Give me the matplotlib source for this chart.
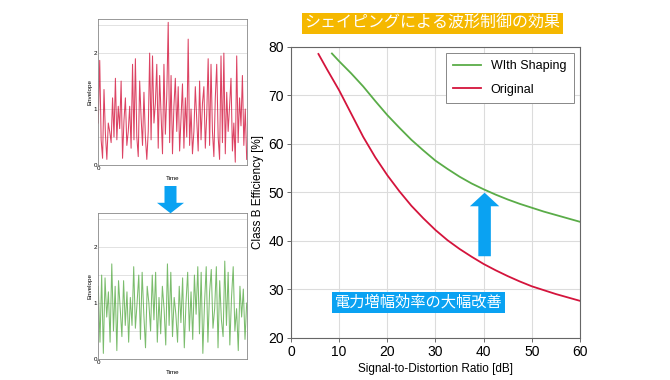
import matplotlib
matplotlib.use("Agg")
import matplotlib.pyplot as plt
import matplotlib.patches as mpatches

plt.rcParams['font.family'] = ['Liberation Sans', 'Noto Sans CJK JP', 'DejaVu Sans']

# main chart: class B efficiency vs SDR
sdr_shaping = [8.5, 10, 12.5, 15, 17.5, 20, 22.5, 25, 27.5, 30, 32.5, 35, 37.5, 40,
               42.5, 45, 47.5, 50, 52.5, 55, 57.5, 60]
eff_shaping = [78.6, 77.0, 74.5, 71.8, 68.8, 65.9, 63.3, 60.8, 58.6, 56.5, 54.8, 53.2, 51.8, 50.6,
               49.5, 48.5, 47.6, 46.8, 46.0, 45.3, 44.6, 43.9]
sdr_orig = [5.7, 7.5, 10, 12.5, 15, 17.5, 20, 22.5, 25, 27.5, 30, 32.5, 35, 37.5, 40,
            42.5, 45, 47.5, 50, 52.5, 55, 57.5, 60]
eff_orig = [78.5, 75.3, 71.0, 66.2, 61.4, 57.2, 53.5, 50.2, 47.2, 44.6, 42.2, 40.1, 38.3, 36.7, 35.2,
            33.9, 32.7, 31.6, 30.6, 29.8, 29.0, 28.3, 27.6]

# envelope traces (read by eye)
env_orig = [
    0.75, 1.87, 0.45, 0.12, 1.35, 0.55, 0.1, 0.75, 0.6, 0.4, 1.2, 0.5,
    1.55, 0.45, 1.05, 0.65, 1.5, 0.12, 0.8, 1.2, 0.35, 0.6, 1.05, 0.3,
    1.8, 0.45, 1.9, 0.5, 0.15, 1.5, 0.85, 0.35, 1.3, 0.5, 0.1, 0.6,
    2.0, 0.45, 1.95, 0.75, 1.1, 1.8, 0.3, 1.6, 0.9, 0.2, 1.8, 0.55, 1.25,
    2.55, 0.4, 1.6, 0.2, 1.05, 1.55, 0.6, 1.4, 0.25, 0.85, 1.45, 0.3, 1.2,
    0.5, 2.25, 0.35, 1.0, 0.2, 0.6, 1.4, 0.8, 0.25, 1.5, 0.45, 1.1, 1.4, 0.3,
    0.9, 1.9, 0.35, 1.8, 0.6, 0.15, 1.2, 1.8, 0.5, 0.1, 1.95, 0.4, 2.0, 0.2,
    1.3, 0.6, 1.05, 1.55, 0.25, 0.75, 0.05, 1.95, 0.4, 1.2, 0.7, 1.6, 0.35, 1.0, 0.1]
env_shaped = [
    1.3, 0.3, 1.5, 0.1, 1.45, 0.75, 1.2, 0.3, 1.7, 0.5, 1.3, 0.15,
    1.4, 0.9, 0.4, 1.4, 0.6, 1.2, 0.3, 1.1, 0.6, 1.65, 0.55, 1.0,
    1.5, 0.35, 1.55, 0.8, 0.2, 1.3, 1.0, 0.5, 1.5, 0.7, 1.55, 0.3, 1.1,
    0.45, 1.3, 0.9, 0.25, 1.7, 0.6, 1.55, 0.4, 1.1, 0.8, 0.3, 1.3, 0.65,
    1.45, 0.2, 1.0, 1.55, 0.5, 1.2, 0.35, 1.5, 0.8, 1.65, 0.45, 1.55, 0.1,
    1.0, 1.65, 0.3, 1.2, 1.6, 0.55, 0.9, 1.65, 0.2, 1.4, 0.7, 0.4, 1.75,
    0.6, 1.55, 0.25, 1.1, 1.65, 0.5, 0.9, 0.15, 1.3, 0.75, 1.25, 0.35, 1.0]

green = '#5aac48'
red = '#d4143c'
blue = '#0aa2f2'

fig = plt.figure(figsize=[6.7, 3.8], dpi=100)


def envelope_axes(rect, vals, c):
    a = fig.add_axes(rect)
    a.plot(range(len(vals)), vals, c=c, lw=0.75, alpha=0.8)
    a.set_xlim(0, len(vals) - 1)
    a.set_ylim(0, 2.61)
    a.set_yticks([0, 1, 2])
    a.set_yticks([0.5, 1.5, 2.5], minor=True)
    a.set_xticks([0])
    a.grid(axis='y', which='both', color='#dddddd', lw=0.6)
    a.tick_params(labelsize=4.5, length=0, pad=1)
    a.tick_params(which='minor', length=0)
    for s in a.spines.values():
        s.set_color('#888888')
        s.set_linewidth(0.6)
    a.set_ylabel('Envelope', fontsize=4.5, labelpad=1)
    a.set_xlabel('Time', fontsize=4.5, labelpad=3)
    return a


envelope_axes([0.1467, 0.5658, 0.2215, 0.3842], env_orig, red)
envelope_axes([0.1467, 0.0553, 0.2215, 0.3842], env_shaped, green)

# down arrow between the two envelopes (inches)
fig.patches.append(mpatches.FancyArrow(1.705, 1.94, 0, -0.273, width=0.12, head_width=0.27,
                                       head_length=0.105, length_includes_head=True,
                                       color=blue, lw=0, transform=fig.dpi_scale_trans))

ax = fig.add_axes([0.4343, 0.1113, 0.4313, 0.7658])
ax.plot(sdr_shaping, eff_shaping, c=green, lw=1.3, label='WIth Shaping')
ax.plot(sdr_orig, eff_orig, c=red, lw=1.3, label='Original')
ax.set_xlim(0, 60)
ax.set_ylim(20, 80)
ax.set_xticks(range(0, 61, 10))
ax.set_yticks(range(20, 81, 10))
ax.grid(color='#dcdcdc', lw=0.8)
ax.set_axisbelow(True)
ax.tick_params(labelsize=10, length=3, width=0.6, color='#555555', pad=2)
for s in ax.spines.values():
    s.set_color('#666666')
    s.set_linewidth(0.8)
ax.set_xlabel('Signal-to-Distortion Ratio [dB]', fontsize=8.5, labelpad=3)
ax.set_ylabel('Class B Efficiency [%]', fontsize=8.5, labelpad=3)
leg = ax.legend(loc='upper right', fontsize=9, fancybox=False, edgecolor='#888888',
                framealpha=1, handlelength=2.2, borderpad=0.6, labelspacing=0.9)
leg.get_frame().set_linewidth(0.7)

ax.add_patch(mpatches.FancyArrow(40.2, 36.8, 0, 13.1, width=2.6, head_width=6.1, head_length=2.8,
                                 length_includes_head=True, color=blue, lw=0))

ax.text(26.5, 27.3, '電力増幅効率の大幅改善', fontsize=11, color='white', ha='center', va='center',
        family=['Noto Sans CJK JP', 'DejaVu Sans'],
        bbox=dict(boxstyle='square,pad=0.15', fc=blue, ec='none'))

fig.text(0.645, 0.938, 'シェイピングによる波形制御の効果', fontsize=11.5, color='white',
         ha='center', va='center', family=['Noto Sans CJK JP', 'DejaVu Sans'],
         bbox=dict(boxstyle='square,pad=0.15', fc='#f5b800', ec='none'))

fig.savefig('out.png', dpi=100)
